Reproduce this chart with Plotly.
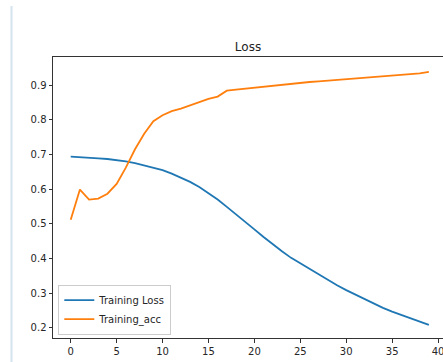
import plotly.graph_objects as go

epochs = list(range(40))
training_loss = [0.694, 0.693, 0.692, 0.689, 0.687, 0.684, 0.680, 0.675, 0.669, 0.663,
                 0.655, 0.645, 0.634, 0.621, 0.606, 0.589, 0.570, 0.549, 0.528, 0.506,
                 0.484, 0.462, 0.441, 0.421, 0.402, 0.386, 0.370, 0.354, 0.338, 0.323,
                 0.309, 0.296, 0.283, 0.270, 0.258, 0.247, 0.237, 0.227, 0.218, 0.209]
training_acc = [0.512, 0.599, 0.570, 0.573, 0.587, 0.615, 0.662, 0.715, 0.760, 0.796,
                0.813, 0.825, 0.832, 0.842, 0.852, 0.860, 0.867, 0.884, 0.887, 0.890,
                0.893, 0.896, 0.899, 0.901, 0.904, 0.906, 0.909, 0.911, 0.913, 0.914,
                0.916, 0.919, 0.921, 0.922, 0.924, 0.926, 0.928, 0.930, 0.934, 0.938]
x_ticks = [0, 5, 10, 15, 20, 25, 30, 35, 40]
y_ticks = [0.2, 0.3, 0.4, 0.5, 0.6, 0.7, 0.8, 0.9]

font = "DejaVu Sans"

fig = go.Figure()
fig.add_trace(go.Scatter(x=epochs, y=training_loss, mode="lines", name="Training Loss",
                         line=dict(color="#1f77b4", width=1.8)))
fig.add_trace(go.Scatter(x=epochs, y=training_acc, mode="lines", name="Training_acc",
                         line=dict(color="#ff7f0e", width=1.8)))

fig.update_layout(
    width=443, height=362,
    margin=dict(l=53, r=0, t=57, b=24),
    paper_bgcolor="white", plot_bgcolor="white",
    font=dict(family=font, size=10, color="#262626"),
    title=dict(text="Loss", x=0.5, xref="paper", xanchor="center",
               y=1 - 47 / 362, yref="container", yanchor="middle",
               font=dict(family=font, size=12, color="#222222")),
    legend=dict(x=0.0136, y=0.012, xanchor="left", yanchor="bottom",
                bgcolor="rgba(255,255,255,0.8)", bordercolor="#cccccc", borderwidth=1,
                font=dict(family=font, size=10, color="#262626"),
                itemwidth=30, tracegroupgap=0),
    showlegend=True,
)
fig.update_xaxes(range=[-1.93, 40.54], tickvals=x_ticks, ticktext=[str(v) for v in x_ticks],
                 showgrid=False, zeroline=False, showline=True, linecolor="#333333",
                 linewidth=1, mirror=True, ticks="outside", ticklen=3.5, tickwidth=1,
                 tickcolor="#333333", ticklabeloverflow="allow")
fig.update_yaxes(range=[0.171, 0.981], tickvals=y_ticks, ticktext=[str(v) for v in y_ticks],
                 showgrid=False, zeroline=False, showline=True, linecolor="#333333",
                 linewidth=1, mirror=False, ticks="outside", ticklen=3.5, tickwidth=1,
                 tickcolor="#333333")

# notebook cell border on the left
fig.add_shape(type="line", xref="paper", yref="paper",
              x0=(11.5 - 53) / 390, x1=(11.5 - 53) / 390,
              y0=(338 - 6) / 281, y1=(338 - 362) / 281,
              line=dict(color="#d6e4ee", width=2))

fig.write_html("out.html", config={"displayModeBar": False},
               post_script="document.body.style.margin='0';document.body.style.overflow='hidden';")
